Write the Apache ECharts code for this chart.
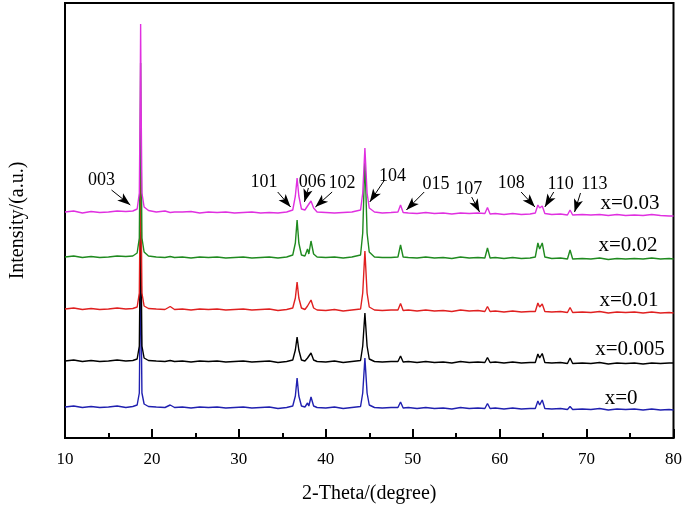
<!DOCTYPE html>
<html>
<head>
<meta charset="utf-8">
<script src="https://cdn.jsdelivr.net/npm/echarts@6/dist/echarts.min.js"></script>
<style>html,body{margin:0;padding:0;background:#fff;}#c{width:685px;height:509px;}</style>
</head>
<body>
<div id="c"></div>
<script>
// 2-Theta positions (degree) shared by all patterns
const theta = [10,11,12,13,14,15,16,17,
 17.8,18.3,18.55,18.65,18.7,18.75,18.85,19.1,19.6,
 20.5,21.5,22.1,22.6,23.5,24.5,25.5,26.5,27.5,28.5,29.5,30.5,31.5,32.5,33.5,34.5,35.5,
 36.2,36.5,36.7,36.9,37.2,37.6,37.9,38.05,38.3,38.6,39,
 40,41,42,43,44,44.25,44.5,44.75,45,45.6,
 46.5,47.5,48.3,48.6,48.9,49.5,
 50.5,51.5,52.5,53.5,54.5,55.5,56.5,57.5,58.3,58.6,58.9,
 59.5,60.5,61.5,62.5,63.5,64.1,64.4,64.6,64.9,65.2,66,67,67.8,68.1,68.4,
 69.5,70.5,71.5,72.5,73.5,74.5,75.5,76.5,77.5,78.5,79.5,80];

// Intensities (a.u., vertically offset patterns)
const int_x0 = [31,32,30.5,31.5,30.5,31,32,30.5,
 31.5,33,45,130,198,130,45,34,31.5,
 31,30.5,33,30.5,31,30,31,30.5,31,30,30.5,31,30,30.5,31,29.5,30.5,
 32,42,60,42,32,31,35,32,41,32,30.5,
 30,31,29.5,30.5,31.5,45,80,45,33,30.5,
 30,30.5,30.5,36,30,30.5,
 29.5,30.5,29.5,30,29,30.5,29.5,30,29.5,34.5,29.5,
 30,29,30,29,29.5,29.5,37,33,38,29.5,29,29.5,28.5,31.5,28.5,
 29,28.5,29.5,28,29,28.5,29,28,29,28,28.5,28];
const int_x0005 = [77,78,76.5,77.5,76.5,77,78,77,
 77.5,79,92,180,233,180,92,80,77.5,
 77,76.5,77.5,76.5,77,76,77,76.5,77,76,76.5,77,76,76.5,77,75.5,76.5,
 78,88,101,88,78,77,80,78,85,78,76.5,
 76,77,75.5,76.5,77.5,92,125,92,79,76.5,
 76,76.5,76.5,82,76,76.5,
 75.5,76.5,75.5,76,75,76.5,75.5,76,75.5,80.5,75.5,
 76,75,76,75,75.5,75.5,84,80,84.5,75.5,75,75.5,74.5,80,74.5,
 75,74.5,75.5,74,75,74.5,75,74,75,74.5,75,75];
const int_x001 = [129,130,128.5,129.5,128.5,129,130,129,
 129.5,131,145,235,285,235,145,132,129.5,
 129,128.5,131.5,128.5,129,128,129,128.5,129,128,128.5,129,128,128.5,129,127.5,128.5,
 130,140,156,140,130,128.5,132,130,138,130,128,
 127.5,128.5,127,128,129,145,187,145,131,128,
 127.5,128,128,134.5,127.5,128,
 127,128,127,127.5,126.5,128,127,127.5,126.5,131.5,126.5,
 127,126,127,126,126.5,126.5,135,131,134,126.5,126,126.5,125.5,130.5,125.5,
 126,125.5,126.5,125,126,125.5,126,125,126,125,125.5,125];
const int_x002 = [181,182,180.5,181.5,180.5,181,182,181.5,
 182,185,200,300,375,300,200,186,182,
 181,180.5,181.5,180.5,181,180,181,180.5,181,180,180.5,181,180,180.5,181,180,181,
 183,195,218,195,183,182,189,184,197,184,181,
 180.5,181,180,181,183,205,280,205,186,181,
 180.5,180.5,181,193,181,180.5,
 180,181,180,180.5,179.5,181,180,180.5,180,190,180,
 180.5,179.5,180.5,179.5,180,181,195,189,195,181,179.5,180,179,188,179,
 179.5,179,180,178.5,179.5,179,179.5,179,180,179,179.5,179];
const int_x003 = [226,227,225,226.5,225.5,226,227,226.5,
 227,229,245,340,414,340,245,231,227.5,
 226,227,225.5,226,226,226.5,225,226,225.5,226,225,225.5,226,225,225.5,225,226,
 228,242,260,242,229,228,232,231,237,230,226,
 225.5,225,225.5,226,228,245,290,245,230,226,
 225,225.5,226,233,225.5,225,
 224.5,225.5,224.5,225,224,225,224.5,225,224.5,230.5,224,
 224.5,223.5,224.5,223.5,224,225,233,230,232,224.5,223.5,224,223,228,223,
 223.5,223,223.5,222.5,223.5,222.5,223,222.5,223.5,222.5,222,222];

const sampleNames = ['x=0','x=0.005','x=0.01','x=0.02','x=0.03'];
const sampleColors = ['#2020b0','#000000','#e02020','#1f8a1f','#e030e0'];
const sampleData = [int_x0, int_x0005, int_x001, int_x002, int_x003];
// sample label anchor [2theta, intensity]
const sampleLabelPos = [[73.97,40],[74.99,89],[74.88,138],[74.76,193],[74.99,235]];

// peak (hkl) labels: [label, textX, textY, arrowFromX, arrowFromY, arrowToX, arrowToY]
const peakLabels = [
 ['003',14.21,258,15.35,248,17.51,233],
 ['101',32.88,256,34.47,246,35.95,231],
 ['006',38.45,256,38.0,250,37.54,236],
 ['102',41.87,255,40.73,246,38.8,231],
 ['104',47.67,262,46.76,258,45.06,236],
 ['015',52.68,254,51.32,246,49.27,228],
 ['107',56.44,249,56.78,241,57.69,226],
 ['108',61.33,255,62.47,246,64.06,231],
 ['110',67.02,254,66.22,246,65.2,231],
 ['113',70.89,254,69.3,245,68.62,226]
];

const FONT = 'Liberation Serif';
const chart = echarts.init(document.getElementById('c'), null, {renderer:'canvas'});

const series = sampleData.map((vals, k) => ({
  name: sampleNames[k],
  type: 'line',
  data: theta.map((t, i) => [t, vals[i]]),
  showSymbol: false,
  symbol: 'none',
  lineStyle: {color: sampleColors[k], width: 1.4},
  z: 2 + k,
  animation: false
}));

const textLabel = (size) => ({
  show: true, position: 'inside', formatter: '{b}',
  color: '#000', fontSize: size, fontFamily: FONT,
  textBorderWidth: 0, textBorderColor: 'transparent', opacity: 1
});

series.push({
  type: 'scatter',
  data: sampleNames.map((n, k) => ({name: n, value: sampleLabelPos[k]})),
  symbolSize: 0,
  itemStyle: {color: '#000'},
  label: textLabel(21),
  silent: true, animation: false, z: 10
});

series.push({
  type: 'scatter',
  data: peakLabels.map(p => ({name: p[0], value: [p[1], p[2]]})),
  symbolSize: 0,
  itemStyle: {color: '#000'},
  label: textLabel(18),
  markLine: {
    silent: true,
    animation: false,
    symbol: ['none', 'arrow'],
    symbolSize: [7, 13],
    lineStyle: {color: '#000', width: 1, type: 'solid', opacity: 1},
    itemStyle: {color: '#000'},
    label: {show: false},
    data: peakLabels.map(p => [{coord: [p[3], p[4]]}, {coord: [p[5], p[6]]}])
  },
  silent: true, animation: false, z: 10
});

chart.setOption({
  animation: false,
  backgroundColor: '#fff',
  grid: {left: 62, right: 8, top: 3, bottom: 71, show: true, borderColor: '#000', borderWidth: 2, backgroundColor: 'transparent'},
  xAxis: {
    type: 'value', min: 10, max: 80, interval: 10,
    axisLine: {show: true, lineStyle: {color: '#000', width: 2}},
    axisTick: {show: true, inside: true, length: 9, lineStyle: {color: '#000', width: 2}},
    minorTick: {show: true, splitNumber: 2, length: 5, lineStyle: {color: '#000', width: 2}},
    splitLine: {show: false},
    axisLabel: {color: '#000', fontSize: 17, fontFamily: FONT, margin: 13},
    name: '2-Theta/(degree)', nameLocation: 'middle', nameGap: 46,
    nameTextStyle: {color: '#000', fontSize: 20, fontFamily: FONT}
  },
  yAxis: {
    type: 'value', min: 0, max: 435,
    axisLine: {show: true, lineStyle: {color: '#000', width: 2}},
    axisTick: {show: false},
    axisLabel: {show: false},
    splitLine: {show: false},
    name: 'Intensity/(a.u.)', nameLocation: 'middle', nameGap: 37, nameRotate: 90,
    nameTextStyle: {color: '#000', fontSize: 20, fontFamily: FONT}
  },
  series: series
});
</script>
</body>
</html>
